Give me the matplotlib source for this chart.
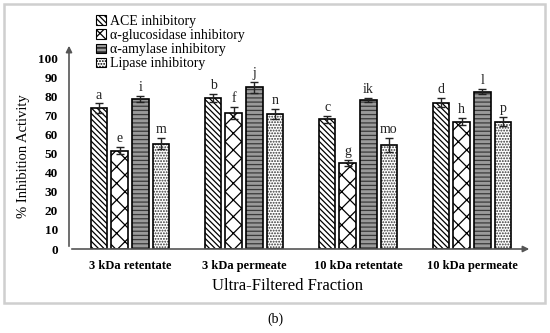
import matplotlib
matplotlib.use("Agg")
import matplotlib.pyplot as plt
import numpy as np
from matplotlib.patches import Rectangle, Patch

plt.rcParams['hatch.linewidth'] = 0.9

categories = ["3 kDa retentate", "3 kDa permeate", "10 kDa retentate", "10 kDa permeate"]
series_names = ["ACE inhibitory", "α-glucosidase inhibitory", "α-amylase inhibitory", "Lipase inhibitory"]
ace = [74.0, 79.5, 68.2, 77.0]
ace_err = [2.6, 2.0, 1.8, 2.5]
gluc = [51.8, 71.5, 45.3, 67.0]
gluc_err = [2.0, 3.3, 1.5, 1.8]
amyl = [79.0, 85.0, 78.5, 82.8]
amyl_err = [1.5, 3.0, 1.0, 1.2]
lip = [55.5, 71.0, 54.5, 67.0]
lip_err = [3.0, 2.5, 3.7, 2.5]
letters_ace = ["a", "b", "c", "d"]
letters_gluc = ["e", "f", "g", "h"]
letters_amyl = ["i", "j", "ik", "l"]
letters_lip = ["m", "n", "mo", "p"]
yticks = [0, 10, 20, 30, 40, 50, 60, 70, 80, 90, 100]

serif = ["Liberation Serif", "DejaVu Serif"]

fig = plt.figure(figsize=(5.5, 3.33), dpi=100)
W, H = 550, 333
ax = fig.add_axes([69 / W, 1 - 249 / H, (532 - 69) / W, (249 - 43) / H])

x = np.arange(len(categories))
bw = 0.145
pitch = 0.181
styles = [
    dict(face="white", hatch="\\\\\\\\\\\\", hc="black"),
    dict(face="white", hatch="xx", hc="black"),
    dict(face="#9a9a9a", hatch="----", hc="#3a3a3a"),
    dict(face="white", hatch="......", hc="#333333"),
]
data = [(ace, ace_err, letters_ace), (gluc, gluc_err, letters_gluc),
        (amyl, amyl_err, letters_amyl), (lip, lip_err, letters_lip)]

handles = []
for i, ((vals, errs, lets), st) in enumerate(zip(data, styles)):
    xs = x + (i - 1.5) * pitch
    ax.bar(xs, vals, bw, color=st["face"], hatch=st["hatch"], edgecolor=st["hc"], linewidth=0, zorder=2)
    ax.bar(xs, vals, bw, fill=False, edgecolor="black", linewidth=1.2, zorder=3)
    ax.errorbar(xs, vals, yerr=errs, fmt="none", ecolor="#222222", elinewidth=1, capsize=3, capthick=1, zorder=4)
    for xi, v, e, t in zip(xs, vals, errs, lets):
        ax.text(xi, v + e + 1.0, t, ha="center", va="bottom", fontsize=10, family=serif, color="#222222")
    handles.append(Patch(facecolor=st["face"], hatch=st["hatch"], edgecolor="black", linewidth=0.8))

ax.set_xlim(-0.535, 3.526)
ax.set_ylim(0, 108.4)
for s in ax.spines.values():
    s.set_visible(False)
ax.set_yticks(yticks)
ax.set_yticklabels([str(t) for t in yticks], fontsize=9.5, fontweight="bold", family=serif)
ax.set_xticks(x)
ax.set_xticklabels(categories, fontsize=9, fontweight="bold", family=serif)
ax.tick_params(axis="both", length=0)
ax.tick_params(axis="y", pad=8)
ax.tick_params(axis="x", pad=8)

# axis arrows
ax.annotate("", xy=(0, 1.0), xytext=(0, 0), xycoords="axes fraction",
            arrowprops=dict(arrowstyle="-|>", color="#555555", lw=1.2, mutation_scale=9), zorder=5)
ax.annotate("", xy=(1.0, 0), xytext=(0, 0), xycoords="axes fraction",
            arrowprops=dict(arrowstyle="-|>", color="#555555", lw=1.2, mutation_scale=9), zorder=5)

fig.text(288 / W, 1 - 286 / H, "Ultra-Filtered Fraction", ha="center", va="center", fontsize=12, family=serif)
fig.text(24 / W, 1 - 156 / H, "% Inhibition Activity", ha="center", va="center", rotation=90, fontsize=10.5, family=serif)
fig.text(275 / W, 1 - 319 / H, "(b)", ha="center", va="center", fontsize=10, family=serif)

leg = fig.legend(handles, series_names, loc="upper left", bbox_to_anchor=(96 / W, 1 - 15 / H),
                 frameon=False, prop=dict(family=serif, size=10), handlelength=0.7, handleheight=0.7,
                 handletextpad=0.3, labelspacing=0.08, borderaxespad=0, borderpad=0)

fig.patches.append(Rectangle((4 / W, 1 - 303 / H), (545 - 4) / W, (303 - 4) / H, transform=fig.transFigure,
                             fill=False, edgecolor="#cfcfcf", linewidth=1.8))

fig.savefig("out.png", dpi=100)
